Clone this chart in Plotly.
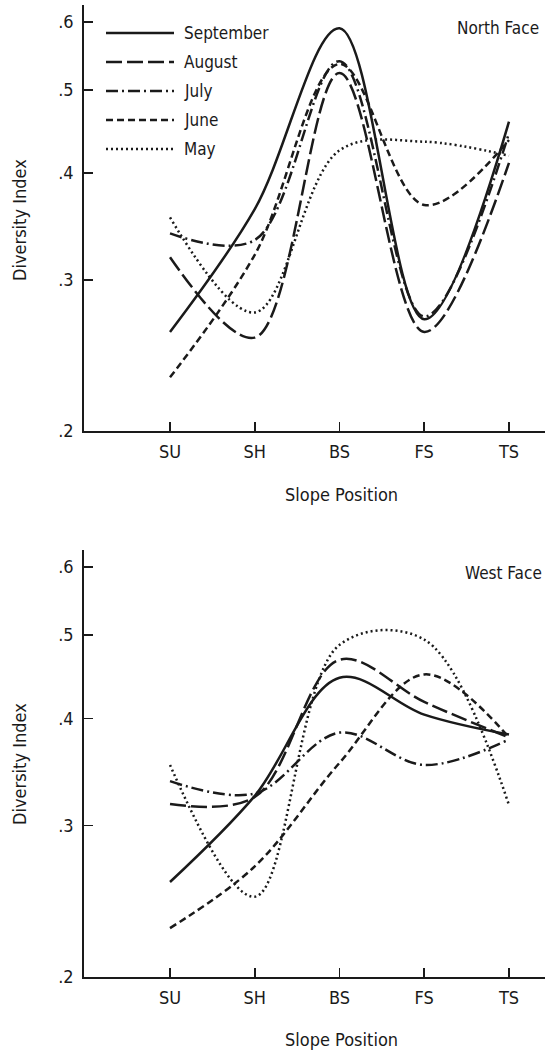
import math
import plotly.graph_objects as go

# ---------------- data ----------------
categories = ["SU", "SH", "BS", "FS", "TS"]
months = ["September", "August", "July", "June", "May"]

north_september = [0.261, 0.363, 0.590, 0.270, 0.459]
north_august = [0.319, 0.257, 0.523, 0.261, 0.411]
north_july = [0.340, 0.334, 0.540, 0.272, 0.445]
north_june = [0.231, 0.321, 0.536, 0.367, 0.437]
north_may = [0.355, 0.275, 0.425, 0.435, 0.419]

west_september = [0.258, 0.325, 0.446, 0.404, 0.383]
west_august = [0.318, 0.324, 0.468, 0.418, 0.380]
west_july = [0.338, 0.327, 0.385, 0.353, 0.378]
west_june = [0.228, 0.269, 0.355, 0.450, 0.380]
west_may = [0.353, 0.248, 0.487, 0.494, 0.317]

y_tick_values = [0.2, 0.3, 0.4, 0.5, 0.6]
y_tick_labels = [".2", ".3", ".4", ".5", ".6"]

# ---------------- styling ----------------
FONT = "DejaVu Sans Condensed, Liberation Sans Narrow, DejaVu Sans, sans-serif"
INK = "#1a1a1a"
LW = 2.5
dashes = {
    "September": "solid",
    "August": "16px,5px",
    "July": "12px,4px,2px,4px",
    "June": "7px,4px",
    "May": "2px,3px",
}

north = [north_september, north_august, north_july, north_june, north_may]
west = [west_september, west_august, west_july, west_june, west_may]

fig = go.Figure()
for name, vals in zip(months, north):
    fig.add_trace(go.Scatter(
        x=categories, y=vals, mode="lines", name=name, showlegend=False,
        line=dict(color=INK, width=LW, dash=dashes[name], shape="spline", smoothing=1.0),
        xaxis="x", yaxis="y"))
for name, vals in zip(months, west):
    fig.add_trace(go.Scatter(
        x=categories, y=vals, mode="lines", name=name, showlegend=False,
        line=dict(color=INK, width=LW, dash=dashes[name], shape="spline", smoothing=1.0),
        xaxis="x2", yaxis="y2"))

W, H = 545, 1054
ML, MR, MT, MB = 84, 0, 5, 77
PW, PH = W - ML - MR, H - MT - MB


def px(xp):
    return (xp - ML) / PW


def py(yp):
    return (H - MB - yp) / PH


yr = [math.log10(0.2), math.log10(0.628)]
xr = [-1.015, 4.425]

xcommon = dict(type="category", categoryorder="array", categoryarray=categories,
               range=xr, showline=True, linecolor=INK, linewidth=1.8,
               ticks="inside", ticklen=9, tickwidth=1.6, tickcolor=INK,
               showgrid=False, zeroline=False, ticklabelstandoff=4,
               tickfont=dict(family=FONT, size=18, color=INK), fixedrange=True)
ycommon = dict(type="log", range=yr, tickvals=y_tick_values, ticktext=y_tick_labels,
               showline=True, linecolor=INK, linewidth=1.8,
               ticks="inside", ticklen=9, tickwidth=1.6, tickcolor=INK,
               showgrid=False, zeroline=False, ticklabelstandoff=5,
               tickfont=dict(family=FONT, size=18, color=INK), fixedrange=True)

fig.update_layout(
    width=W, height=H, autosize=False,
    margin=dict(l=ML, r=MR, t=MT, b=MB),
    paper_bgcolor="white", plot_bgcolor="white",
    showlegend=False,
    xaxis=dict(xcommon, anchor="y", domain=[0, 1]),
    yaxis=dict(ycommon, anchor="x", domain=[py(431), 1.0]),
    xaxis2=dict(xcommon, anchor="y2", domain=[0, 1]),
    yaxis2=dict(ycommon, anchor="x2", domain=[0.0, py(550)]),
)

anns = []
tf = dict(family=FONT, size=17, color=INK)
tt = dict(family=FONT, size=18, color=INK)
# axis titles
for yc in (220, 764):
    anns.append(dict(text="Diversity Index", x=px(19), y=py(yc), xref="paper", yref="paper",
                     showarrow=False, textangle=-90, font=tt, xanchor="center", yanchor="middle"))
for yc in (494, 1039):
    anns.append(dict(text="Slope Position", x=px(341), y=py(yc), xref="paper", yref="paper",
                     showarrow=False, font=tt, xanchor="center", yanchor="middle"))
anns.append(dict(text="North Face", x=px(498), y=py(28), xref="paper", yref="paper",
                 showarrow=False, font=tf, xanchor="center", yanchor="middle"))
anns.append(dict(text="West Face", x=px(503), y=py(573), xref="paper", yref="paper",
                 showarrow=False, font=tf, xanchor="center", yanchor="middle"))

# legend (top panel)
shapes = []
legend_rows = [33, 62, 91, 120, 149]
for name, yrow in zip(months, legend_rows):
    shapes.append(dict(type="line", xref="paper", yref="paper",
                       x0=px(106), x1=px(174), y0=py(yrow), y1=py(yrow),
                       line=dict(color=INK, width=LW, dash=dashes[name])))
    anns.append(dict(text=name, x=px(182), y=py(yrow), xref="paper", yref="paper",
                     showarrow=False, font=tf, xanchor="left", yanchor="middle"))

fig.update_layout(annotations=anns, shapes=shapes)
fig.write_html("out.html", config={"displayModeBar": False, "staticPlot": True},
               post_script="document.body.style.margin='0px';")
